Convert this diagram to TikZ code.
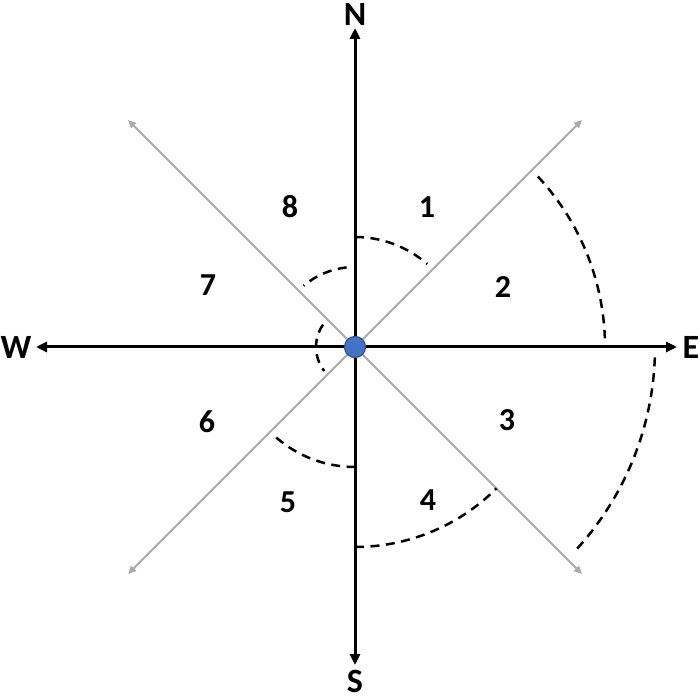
\documentclass[tikz,border=0pt]{standalone}
\usepackage{fontspec}
\setmainfont{Carlito}
\usetikzlibrary{arrows.meta,calc}
\tikzset{
  axis/.style={line width=3pt, -{Triangle[length=11pt,width=10pt]}},
  diag/.style={line width=2pt, draw={rgb,255:red,170;green,170;blue,170}, {Triangle[length=8pt,width=7pt]}-{Triangle[length=8pt,width=7pt]}},
  dasharc/.style={line width=2.5pt, dash pattern=on 9pt off 6.5pt},
  dirlabel/.style={font=\fontsize{34}{34}\selectfont\bfseries, inner sep=0pt},
  numlabel/.style={font=\fontsize{32}{32}\selectfont\bfseries, inner sep=0pt},
}
\begin{document}
\begin{tikzpicture}[x=1pt,y=1pt]
\useasboundingbox (0,0) rectangle (700,699);
\coordinate (O) at (355,352);
\coordinate (Ntip) at (355,671);
\coordinate (Stip) at (355,34);
\coordinate (Wtip) at (36,352);
\coordinate (Etip) at (677,352);
\coordinate (NE) at (582,579);
\coordinate (NW) at (128,579);
\coordinate (SW) at (128,125);
\coordinate (SE) at (582,125);
% diagonals
\draw[diag] (SW) -- (NE);
\draw[diag] (NW) -- (SE);
% axes
\draw[axis] (O) -- (Ntip);
\draw[axis] (O) -- (Stip);
\draw[axis] (O) -- (Wtip);
\draw[axis] (O) -- (Etip);
% dashed arcs
\draw[dasharc] ($(O)+(90:110)$) arc[start angle=90, end angle=49, radius=110];
\draw[dasharc] ($(O)+(96:80)$) arc[start angle=96, end angle=130, radius=80];
\draw[dasharc] ($(O)+(145:39)$) arc[start angle=145, end angle=218, radius=39];
\draw[dasharc] ($(O)+(229:120)$) arc[start angle=229, end angle=270, radius=120];
\draw[dasharc] ($(O)+(270:200)$) arc[start angle=270, end angle=315, radius=200];
\draw[dasharc] ($(O)+(-2:300)$) arc[start angle=-2, end angle=-43, radius=300];
\draw[dasharc] ($(O)+(43:250)$) arc[start angle=43, end angle=2, radius=250];
% center dot
\node[circle, minimum size=21pt, inner sep=0pt, fill={rgb,255:red,68;green,114;blue,196}, draw={rgb,255:red,47;green,82;blue,143}, line width=1.2pt] (dot) at (O) {};
% direction labels
\node[dirlabel] (lN) at (355,685) {N};
\node[dirlabel] (lS) at (355,18) {S};
\node[dirlabel] (lW) at (16,352) {W};
\node[dirlabel] (lE) at (691,352) {E};
% sector numbers
\node[numlabel] (n1) at (427,492) {1};
\node[numlabel] (n2) at (503,412) {2};
\node[numlabel] (n3) at (507,279) {3};
\node[numlabel] (n4) at (428,199) {4};
\node[numlabel] (n5) at (288,197) {5};
\node[numlabel] (n6) at (207,277) {6};
\node[numlabel] (n7) at (208,414) {7};
\node[numlabel] (n8) at (290,492) {8};
\end{tikzpicture}
\end{document}
